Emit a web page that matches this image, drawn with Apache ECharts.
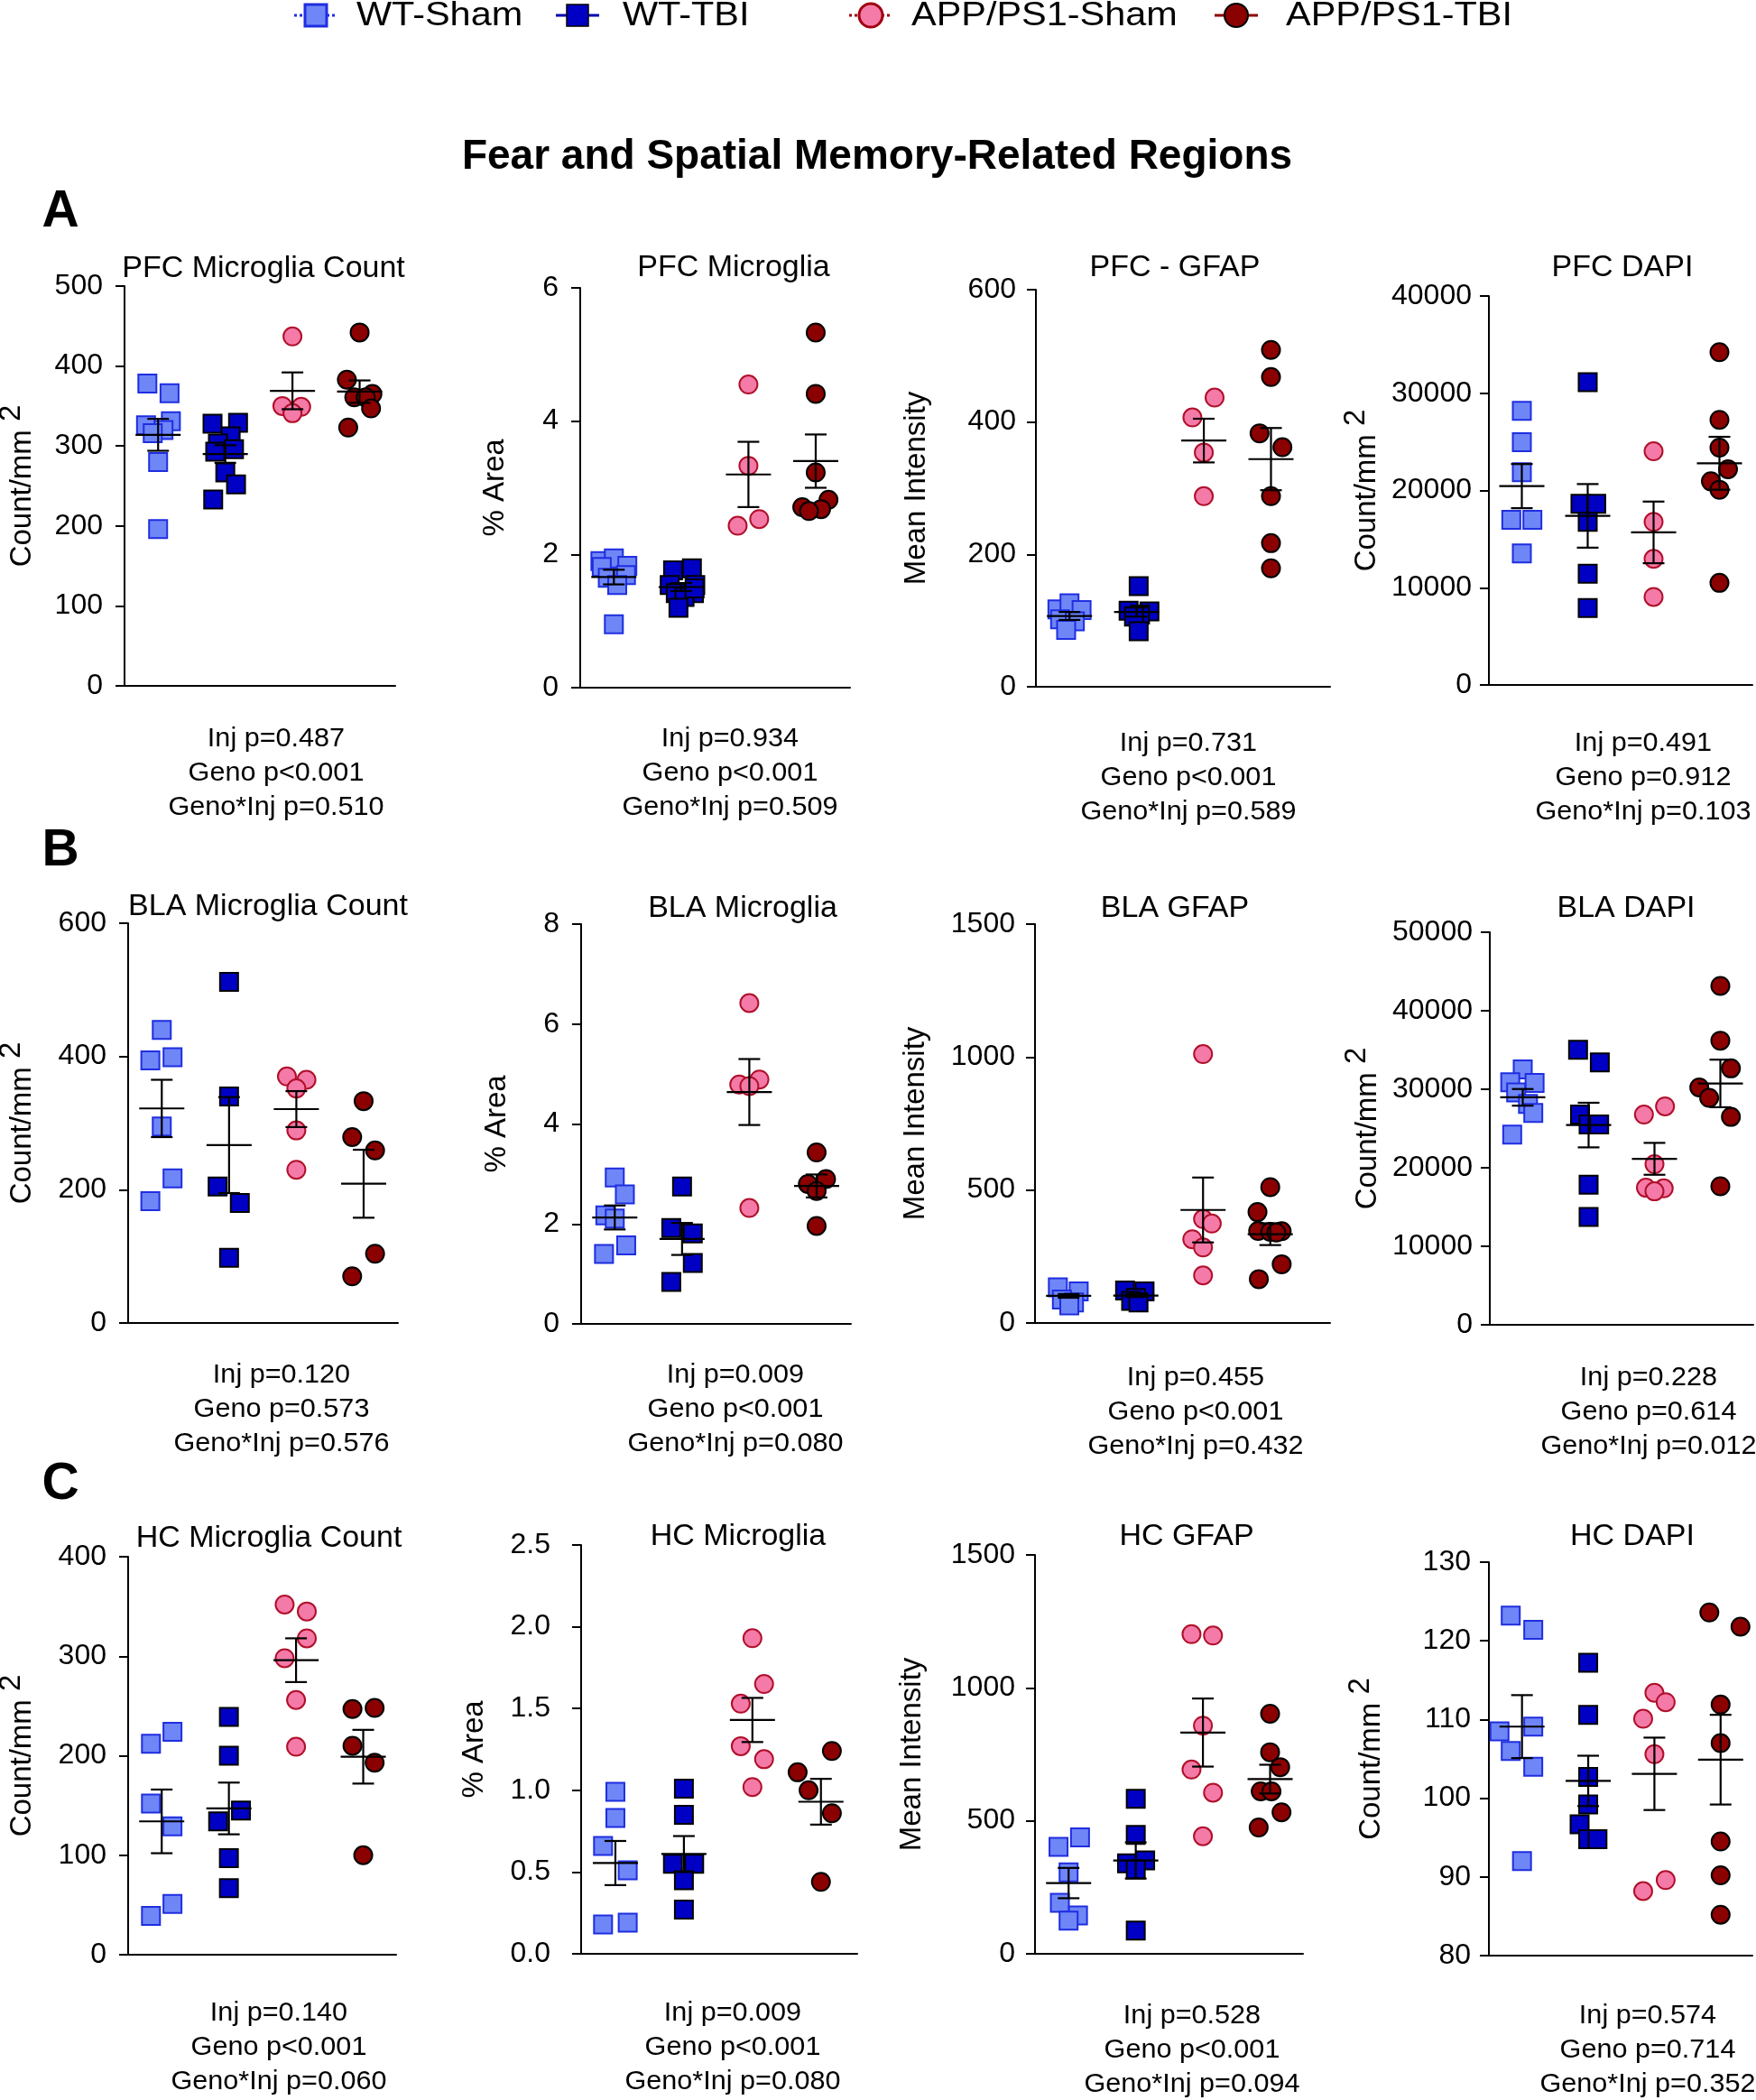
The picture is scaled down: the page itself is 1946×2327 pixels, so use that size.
<!DOCTYPE html>
<html><head><meta charset="utf-8">
<script src="https://cdn.jsdelivr.net/npm/echarts@6/dist/echarts.min.js"></script>
<style>html,body{margin:0;padding:0;background:#fff}#c{width:1946px;height:2327px}</style>
</head><body><div id="c"></div>
<script>
const FONT = '"Liberation Sans", Arial, Helvetica, sans-serif';
const groups = ['WT-Sham', 'WT-TBI', 'APP/PS1-Sham', 'APP/PS1-TBI'];
const header = 'Fear and Spatial Memory-Related Regions';
const panelLetters = ['A', 'B', 'C'];

// ---- A: PFC ----
const pfcCount = [[378,366,331,326,320,316,280,196],[328,329,312,303,296,293,267,252,233],[437,350,349,341],[442,383,365,361,361,347,323]];
const pfcCountJit = [[-0.16,0.17,0.19,-0.18,0.08,-0.08,0,0],[-0.19,0.19,0.08,-0.11,0.13,-0.15,0,0.16,-0.18],[0,-0.15,0.13,0],[0,-0.19,0.19,-0.08,0.09,0.17,-0.17]];
const pfcCountMean = [314,290,369,368];
const pfcCountSem = [20,11,23,14];
const pfcCountStats = ['Inj p=0.487','Geno p<0.001','Geno*Inj p=0.510'];

const pfcArea = [[1.90,1.94,1.83,1.81,1.69,1.65,1.54,0.95],[1.76,1.79,1.54,1.54,1.42,1.42,1.36,1.20,1.49],[4.55,3.33,2.53,2.43],[5.33,4.41,3.23,2.82,2.71,2.68,2.65]];
const pfcAreaJit = [[-0.2,0,0.2,-0.18,0.18,-0.09,0.05,0],[-0.12,0.16,-0.17,0.21,-0.08,0.19,0.05,-0.04,0.2],[0,0,0.16,-0.16],[0,0,0,0.19,-0.2,0.08,-0.1]];
const pfcAreaMean = [1.66,1.51,3.20,3.40];
const pfcAreaSem = [0.11,0.06,0.49,0.40];
const pfcAreaStats = ['Inj p=0.934','Geno p<0.001','Geno*Inj p=0.509'];

const pfcGfap = [[117,126,116,102,99,86],[152,115,114,109,106,84],[437,407,354,288],[509,468,383,362,288,217,179]];
const pfcGfapJit = [[-0.18,0,0.18,-0.14,0.08,-0.05],[0.03,-0.12,0.19,0.05,-0.04,0.03],[0.16,-0.17,0,0],[0,0,-0.17,0.17,0,0,0]];
const pfcGfapMean = [107,113,372,344];
const pfcGfapSem = [6,7,33,47];
const pfcGfapStats = ['Inj p=0.731','Geno p<0.001','Geno*Inj p=0.589'];

const pfcDapi = [[28200,24960,21870,16990,16990,13530],[31140,18630,18630,16770,11430,7910],[24030,16770,12970,9050],[34220,27270,24400,22180,20940,20080,10500]];
const pfcDapiJit = [[0,0,0,-0.16,0.16,0],[0,-0.11,0.13,0,0,0],[0,0,0,0],[0,0,0,0.13,-0.13,0,0]];
const pfcDapiMean = [20450,17390,15690,22800];
const pfcDapiSem = [2270,3270,3170,2720];
const pfcDapiStats = ['Inj p=0.491','Geno p=0.912','Geno*Inj p=0.103'];

// ---- B: BLA ----
const blaCount = [[440,394,399,295,217,183],[512,340,205,180,98],[370,365,352,289,230],[333,279,259,104,70]];
const blaCountJit = [[0,-0.17,0.16,0,0.16,-0.17],[0,0,-0.17,0.16,0],[-0.14,0.15,0,0,0],[0,-0.17,0.17,0.17,-0.17]];
const blaCountMean = [322,267,321,209];
const blaCountSem = [43,72,27,51];
const blaCountStats = ['Inj p=0.120','Geno p=0.573','Geno*Inj p=0.576'];

const blaArea = [[2.93,2.59,2.17,2.11,1.57,1.40],[2.75,1.92,1.81,1.22,0.84],[6.42,4.89,4.79,4.76,2.32],[3.43,2.90,2.80,2.66,1.96]];
const blaAreaJit = [[0,0.15,-0.14,0,0.17,-0.16],[0,-0.16,0.16,0.16,-0.16],[0,0.15,-0.15,0,0],[0,0.14,-0.13,0,0]];
const blaAreaMean = [2.13,1.70,4.64,2.76];
const blaAreaSem = [0.24,0.32,0.66,0.23];
const blaAreaStats = ['Inj p=0.009','Geno p<0.001','Geno*Inj p=0.080'];

const blaGfap = [[134,119,88,77,66],[122,119,94,83,77],[1011,391,374,315,284,179],[511,417,346,343,345,340,221,165]];
const blaGfapJit = [[-0.16,0.15,-0.1,0.08,0.01],[-0.16,0.13,0,-0.07,0.04],[0,0,0.13,-0.16,0,0],[0,-0.19,-0.18,0,0.17,0.09,0.17,-0.17]];
const blaGfapMean = [102,103,425,334];
const blaGfapSem = [7,5,122,41];
const blaGfapStats = ['Inj p=0.455','Geno p<0.001','Geno*Inj p=0.432'];

const blaDapi = [[32540,30890,30810,29590,28130,26980,24210],[35040,33420,26780,25520,25520,17840,13740],[27820,26780,20450,17460,17380,17000],[43170,36190,32660,30240,28900,26480,17650]];
const blaDapiJit = [[0,-0.19,0.18,-0.1,0.08,0.16,-0.16],[-0.16,0.17,-0.13,0,0.16,0,0],[0.16,-0.16,0,-0.13,0.14,0],[0,0,0.16,-0.32,-0.17,0.16,0]];
const blaDapiMean = [28970,25440,21140,30740];
const blaDapiSem = [1060,2840,2030,3030];
const blaDapiStats = ['Inj p=0.228','Geno p=0.614','Geno*Inj p=0.012'];

// ---- C: HC ----
const hcCount = [[224,212,152,129,51,39],[239,200,145,134,97,67],[352,345,318,298,256,209],[247,248,210,193,100]];
const hcCountJit = [[0.16,-0.16,-0.16,0.16,0.16,-0.16],[0,0,0.18,-0.16,0,0],[-0.17,0.16,0.16,-0.17,0,0],[-0.16,0.17,-0.16,0.17,0]];
const hcCountMean = [134,147,296,199];
const hcCountSem = [32,26,22,27];
const hcCountStats = ['Inj p=0.140','Geno p<0.001','Geno*Inj p=0.060'];

const hcArea = [[0.99,0.83,0.66,0.51,0.18,0.19],[1.01,0.85,0.55,0.55,0.45,0.27],[1.93,1.65,1.53,1.27,1.19,1.02],[1.24,1.11,1.00,0.86,0.44]];
const hcAreaJit = [[0,0,-0.18,0.18,-0.18,0.18],[0,0,-0.16,0.15,0,0],[0,0.17,-0.17,-0.17,0.17,0],[0.16,-0.34,-0.18,0.16,0]];
const hcAreaMean = [0.555,0.61,1.43,0.93];
const hcAreaSem = [0.135,0.11,0.135,0.14];
const hcAreaStats = ['Inj p=0.009','Geno p<0.001','Geno*Inj p=0.080'];

const hcGfap = [[438,402,306,192,144,125],[583,447,351,340,317,87],[1202,1197,858,693,606,442],[903,758,702,611,611,532,475]];
const hcGfapJit = [[0.17,-0.15,0,-0.13,0.14,0],[0,0,0.14,-0.13,0,0],[-0.17,0.15,0,-0.17,0.15,0],[0,0,0.15,-0.14,0.02,0.17,-0.17]];
const hcGfapMean = [266,351,832,657];
const hcGfapSem = [57,68,128,54];
const hcGfapStats = ['Inj p=0.528','Geno p<0.001','Geno*Inj p=0.094'];

const hcDapi = [[123.2,121.4,108.5,109.1,106.0,104.0,92.0],[117.2,110.6,102.7,99.2,96.7,94.8,94.8],[113.4,112.2,110.1,105.6,89.6,88.2],[123.6,121.8,111.9,107.0,94.5,90.2,85.2]];
const hcDapiJit = [[-0.17,0.17,-0.34,0.17,-0.17,0.17,0],[0,0,0,0,-0.13,0,0.14],[0,0.17,-0.17,0,0.17,-0.17],[-0.17,0.3,0,0,0,0,0]];
const hcDapiMean = [109.1,102.2,103.1,104.9];
const hcDapiSem = [4.0,3.2,4.6,5.7];
const hcDapiStats = ['Inj p=0.574','Geno p=0.714','Geno*Inj p=0.352'];

const panelTitles = ['PFC Microglia Count','PFC Microglia','PFC - GFAP','PFC DAPI','BLA Microglia Count','BLA Microglia','BLA GFAP','BLA DAPI','HC Microglia Count','HC Microglia','HC GFAP','HC DAPI'];
const yNames = ['count','area','mean','count','count','area','mean','count','count','area','mean','count'];
const yMin = [0,0,0,0, 0,0,0,0, 0,0,0,80];
const yMax = [500,6,600,40000, 600,8,1500,50000, 400,2.5,1500,130];
const yStep = [100,2,200,10000, 200,2,500,10000, 100,0.5,500,10];

const values = [pfcCount,pfcArea,pfcGfap,pfcDapi,blaCount,blaArea,blaGfap,blaDapi,hcCount,hcArea,hcGfap,hcDapi];
const jitters = [pfcCountJit,pfcAreaJit,pfcGfapJit,pfcDapiJit,blaCountJit,blaAreaJit,blaGfapJit,blaDapiJit,hcCountJit,hcAreaJit,hcGfapJit,hcDapiJit];
const means = [pfcCountMean,pfcAreaMean,pfcGfapMean,pfcDapiMean,blaCountMean,blaAreaMean,blaGfapMean,blaDapiMean,hcCountMean,hcAreaMean,hcGfapMean,hcDapiMean];
const sems = [pfcCountSem,pfcAreaSem,pfcGfapSem,pfcDapiSem,blaCountSem,blaAreaSem,blaGfapSem,blaDapiSem,hcCountSem,hcAreaSem,hcGfapSem,hcDapiSem];
const stats = [pfcCountStats,pfcAreaStats,pfcGfapStats,pfcDapiStats,blaCountStats,blaAreaStats,blaGfapStats,blaDapiStats,hcCountStats,hcAreaStats,hcGfapStats,hcDapiStats];

// ---- layout (pixels) ----
// left, top, width, height, xUnits, nameGap, labelMargin, titleX, titleY, statsX, statsY
const boxes = [
 [138, 317, 300, 443, 4.03,  97, 24,  292,  298,  306,  819],
 [643, 319, 299, 443, 4.01,  78, 24,  813,  297,  809,  819],
 [1148,321, 326, 440, 4.38, 116, 22, 1302,  297, 1317,  824],
 [1650,328, 292, 431, 4.00, 119, 19, 1798,  297, 1821,  824],
 [142, 1023,299, 443, 4.01, 101, 24,  297, 1005,  312, 1524],
 [644, 1024,299, 443, 4.01,  77, 24,  823, 1007,  815, 1524],
 [1147,1024,327, 442, 4.39, 116, 22, 1302, 1007, 1325, 1527],
 [1651,1033,292, 435, 4.00, 119, 19, 1802, 1007, 1827, 1527],
 [142, 1725,297, 441, 3.99, 101, 24,  298, 1705,  309, 2231],
 [644, 1712,306, 453, 4.03, 102, 34,  818, 1703,  812, 2231],
 [1147,1723,297, 442, 3.99, 120, 22, 1315, 1703, 1321, 2234],
 [1650,1731,292, 436, 3.98, 114, 20, 1809, 1703, 1826, 2234]
];
const letterPos = [[67,235],[67,943],[67,1645]];

const styles = [
  {symbol:'rect',   fill:'#6f86f7', stroke:'#1f2ee0', legendLine:'#1f2ee0', dash:true},
  {symbol:'rect',   fill:'#0000c4', stroke:'#000000', legendLine:'#0000b0', dash:false},
  {symbol:'circle', fill:'#f47aa8', stroke:'#b0102a', legendLine:'#a00010', dash:true},
  {symbol:'circle', fill:'#8b0000', stroke:'#000000', legendLine:'#8b0000', dash:false}
];

function renderErr(params, api) {
  const x = api.value(0), m = api.value(1), s = api.value(2);
  const c = api.coord([x, m]), t = api.coord([x, m + s]), b = api.coord([x, m - s]);
  const st = {stroke:'#000', lineWidth:2.2, fill:null};
  return {type:'group', children:[
    {type:'line', shape:{x1:c[0]-25, y1:c[1], x2:c[0]+25, y2:c[1]}, style:st},
    {type:'line', shape:{x1:c[0], y1:t[1], x2:c[0], y2:b[1]}, style:st},
    {type:'line', shape:{x1:c[0]-12, y1:t[1], x2:c[0]+12, y2:t[1]}, style:st},
    {type:'line', shape:{x1:c[0]-12, y1:b[1], x2:c[0]+12, y2:b[1]}, style:st}
  ]};
}

const grid = [], xAxis = [], yAxis = [], series = [], graphic = [];
const nameRich = {
  a:{fontSize:33, fontFamily:FONT, color:'#000', verticalAlign:'bottom'},
  b:{fontSize:33, fontFamily:FONT, color:'#000', verticalAlign:'bottom', padding:[0,0,12,0]}
};
function yNameText(k) {
  if (k === 'count') return '{a|Count/mm }{b|2}';
  if (k === 'area') return '{a|% Area}';
  return '{a|Mean Intensity}';
}
function txt(x, y, text, size, opts) {
  opts = opts || {};
  return {type:'text', x:x, y:y, scaleX:opts.sx || 1,
    style:{text:text, fontSize:size, fontWeight:opts.bold ? 'bold' : 'normal', fontFamily:FONT, fill:'#000',
      align:opts.align || 'center', verticalAlign:'middle', textAlign:opts.align || 'center', textVerticalAlign:'middle'}};
}

for (let i = 0; i < 12; i++) {
  const bx = boxes[i];
  grid.push({left:bx[0], top:bx[1], width:bx[2], height:bx[3], containLabel:false, outerBoundsMode:'none'});
  xAxis.push({type:'value', gridIndex:i, min:0, max:bx[4], axisLine:{show:true, onZero:false, lineStyle:{color:'#000', width:2}},
    axisTick:{show:false}, axisLabel:{show:false}, splitLine:{show:false}});
  const dec = yStep[i] < 1 ? 1 : 0;
  yAxis.push({type:'value', gridIndex:i, min:yMin[i], max:yMax[i], interval:yStep[i],
    name:yNameText(yNames[i]), nameLocation:'middle', nameGap:bx[5],
    nameTextStyle:{fontSize:33, fontFamily:FONT, color:'#000', rich:nameRich},
    axisLine:{show:true, onZero:false, lineStyle:{color:'#000', width:2}},
    axisTick:{show:true, inside:false, length:10, lineStyle:{color:'#000', width:2}},
    axisLabel:{margin:bx[6], fontSize:32, fontFamily:FONT, color:'#000', formatter:v => dec ? v.toFixed(1) : String(v)},
    splitLine:{show:false}});
  for (let g = 0; g < 4; g++) {
    const st = styles[g];
    series.push({type:'scatter', name:groups[g], xAxisIndex:i, yAxisIndex:i, symbol:st.symbol, symbolSize:20,
      itemStyle:{color:st.fill, borderColor:st.stroke, borderWidth:2, opacity:1},
      z:2, silent:true,
      data:values[i][g].map((v, j) => [g + 0.5 + jitters[i][g][j], v])});
  }
  series.push({type:'custom', xAxisIndex:i, yAxisIndex:i, renderItem:renderErr, z:5, silent:true,
    encode:{x:0, y:1},
    data:groups.map((g, k) => [k + 0.5, means[i][k], sems[i][k]])});
  graphic.push(txt(bx[7], bx[8], panelTitles[i], 33, {sx:1.03}));
  stats[i].forEach((s, j) => graphic.push(txt(bx[9], bx[10] + j * 38, s, 30, {sx:1.02})));
}

graphic.push(txt(972, 174, header, 46, {bold:true}));
panelLetters.forEach((L, k) => graphic.push(txt(letterPos[k][0], letterPos[k][1], L, 57, {bold:true})));

// legend
const legX = [350, 640, 965, 1370];
const legTextX = [395, 690, 1010, 1425];
const legY = 17;
groups.forEach((g, k) => {
  const st = styles[k];
  graphic.push({type:'line', shape:{x1:legX[k]-24, y1:legY, x2:legX[k]+24, y2:legY},
    style:{stroke:st.legendLine, lineWidth:3, lineDash:st.dash ? [3,3] : null}});
  if (st.symbol === 'rect') {
    graphic.push({type:'rect', shape:{x:legX[k]-12, y:legY-12, width:24, height:24},
      style:{fill:st.fill, stroke:st.dash ? '#1f2ee0' : '#000', lineWidth:st.dash ? 3 : 1.5}});
  } else {
    graphic.push({type:'circle', shape:{cx:legX[k], cy:legY, r:13},
      style:{fill:st.fill, stroke:st.dash ? '#a00010' : '#000', lineWidth:st.dash ? 3 : 2}});
  }
  graphic.push(txt(legTextX[k], legY + 1, g, 37, {align:'left', sx:1.12}));
});

const chart = echarts.init(document.getElementById('c'), null, {renderer:'canvas', width:1946, height:2327});
chart.setOption({animation:false, backgroundColor:'#fff', grid, xAxis, yAxis, series, graphic});
</script>
</body></html>
